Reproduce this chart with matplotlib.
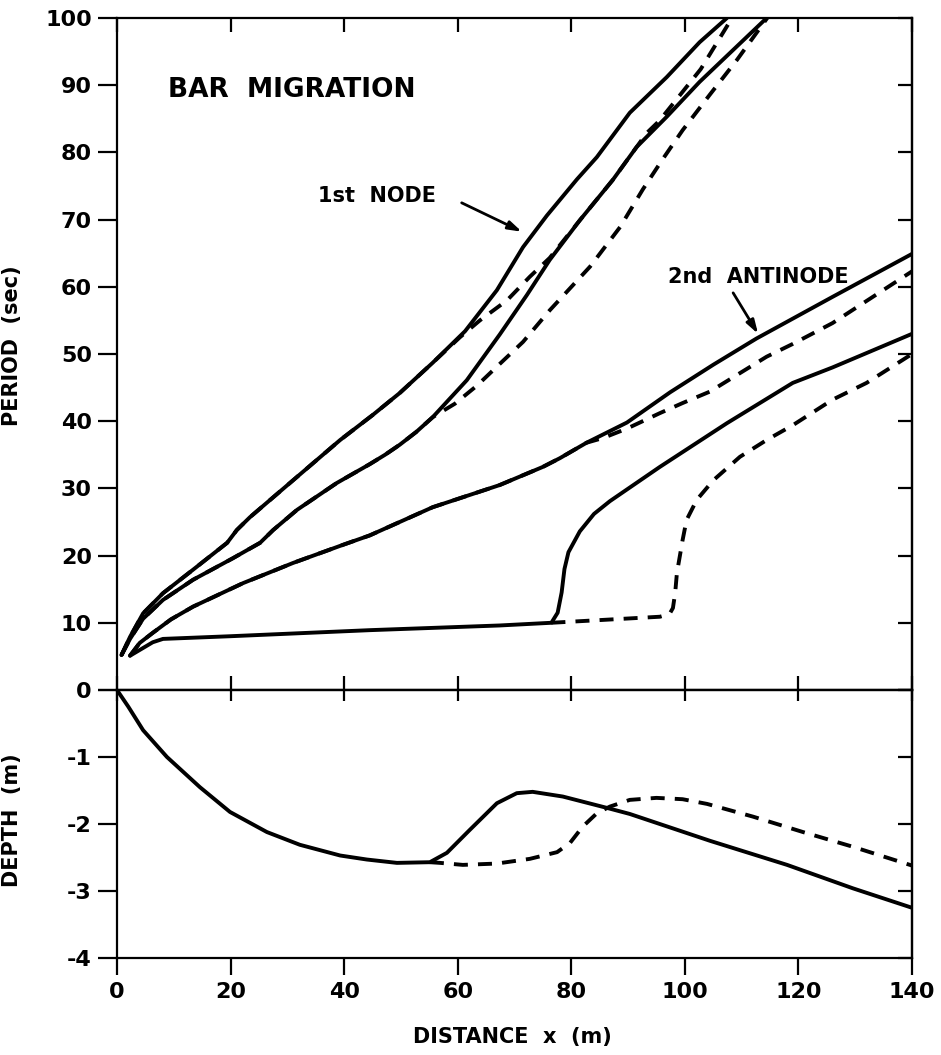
import matplotlib
matplotlib.use("Agg")
import matplotlib.pyplot as plt

# ---------------- data ----------------
# 1st node, solid (upper)
s1_x = [0.8, 2.3, 4.6, 8.1, 13.4, 19.4, 21.1, 23.4, 31.0, 39.3, 45.0, 49.8, 55.6, 61.3, 66.9, 71.5, 75.7, 81.0, 84.5, 90.3, 96.8, 102.6, 107.4]
s1_y = [5.2, 7.9, 11.4, 14.4, 17.9, 21.9, 23.8, 25.7, 31.2, 37.2, 40.9, 44.2, 48.7, 53.4, 59.5, 65.9, 70.6, 76.0, 79.3, 85.9, 91.2, 96.4, 100.0]
# 1st node, dashed (upper)
d1_x = [0.8, 2.3, 4.6, 8.1, 13.4, 19.4, 21.1, 23.4, 31.0, 39.3, 45.0, 49.8, 55.6, 60.4, 63.9, 68.7, 72.7, 76.2, 81.5, 87.3, 91.5, 93.3, 95.5, 99.3, 102.8, 108.3]
d1_y = [5.2, 7.9, 11.4, 14.4, 17.9, 21.9, 23.8, 25.7, 31.2, 37.2, 40.9, 44.2, 48.7, 52.5, 55.0, 58.0, 61.5, 64.3, 69.9, 75.9, 80.8, 82.9, 84.7, 88.7, 92.4, 100.0]
# 1st node, solid (lower)
s2_x = [0.8, 2.3, 4.6, 8.1, 13.4, 20.4, 25.2, 27.5, 31.7, 38.7, 44.5, 47.2, 49.8, 52.7, 55.6, 61.6, 67.4, 72.2, 76.2, 81.5, 87.3, 91.5, 96.8, 102.6, 114.4]
s2_y = [5.2, 7.6, 10.6, 13.4, 16.4, 19.6, 21.9, 23.8, 26.8, 30.8, 33.6, 35.0, 36.5, 38.4, 40.6, 46.1, 52.9, 58.8, 64.0, 69.9, 75.9, 80.8, 85.3, 90.5, 100.0]
# 1st node, dashed (lower)
d2_x = [0.8, 2.3, 4.6, 8.1, 13.4, 20.4, 25.2, 27.5, 31.7, 38.7, 44.5, 47.2, 49.8, 52.7, 55.6, 59.5, 63.4, 67.0, 71.5, 76.2, 83.3, 88.6, 92.6, 96.1, 99.6, 104.4, 109.2, 114.5]
d2_y = [5.2, 7.6, 10.6, 13.4, 16.4, 19.6, 21.9, 23.8, 26.8, 30.8, 33.6, 35.0, 36.5, 38.4, 40.6, 42.6, 45.3, 48.2, 51.8, 56.5, 63.0, 68.9, 74.5, 79.0, 83.3, 88.6, 93.8, 100.0]
# 2nd antinode, solid (upper)
s3_x = [2.3, 4.0, 6.3, 9.5, 13.4, 22.2, 31.0, 39.8, 44.5, 55.6, 67.4, 75.0, 78.0, 82.7, 89.8, 97.4, 105.0, 112.6, 126.0, 140.0]
s3_y = [5.1, 7.0, 8.5, 10.5, 12.4, 15.9, 18.9, 21.6, 23.0, 27.2, 30.5, 33.2, 34.5, 36.8, 39.8, 44.3, 48.4, 52.3, 58.5, 64.9]
# 2nd antinode, dashed (upper)
d3_x = [2.3, 4.0, 6.3, 9.5, 13.4, 22.2, 31.0, 39.8, 44.5, 55.6, 67.4, 75.0, 78.0, 82.7, 85.6, 89.8, 95.6, 99.6, 104.4, 114.4, 119.0, 126.0, 140.0]
d3_y = [5.1, 7.0, 8.5, 10.5, 12.4, 15.9, 18.9, 21.6, 23.0, 27.2, 30.5, 33.2, 34.5, 36.8, 37.5, 38.9, 41.2, 42.7, 44.4, 49.6, 51.5, 54.6, 62.3]
# 2nd antinode, solid (lower)
s4_x = [2.3, 4.5, 6.3, 8.1, 20.0, 44.5, 67.4, 76.5, 77.6, 78.3, 78.8, 79.5, 81.5, 84.0, 86.8, 95.6, 107.4, 119.0, 126.0, 140.0]
s4_y = [5.1, 6.2, 7.1, 7.6, 8.0, 8.9, 9.6, 10.0, 11.5, 14.5, 18.0, 20.5, 23.6, 26.2, 28.1, 33.2, 39.7, 45.7, 48.0, 53.0]
# 2nd antinode, dashed (lower)
d4_x = [76.5, 85.0, 95.6, 97.3, 97.9, 98.3, 98.6, 99.6, 100.3, 102.1, 105.0, 109.7, 114.4, 119.0, 126.0, 132.0, 140.0]
d4_y = [10.0, 10.4, 10.9, 11.3, 12.2, 14.5, 17.4, 22.3, 25.3, 28.3, 31.2, 34.7, 37.2, 39.4, 43.2, 45.7, 50.0]

# depth profiles
depth_solid_x = [0, 2.0, 4.6, 8.8, 14.6, 19.9, 26.4, 32.2, 39.3, 44.0, 49.3, 55.1, 58.1, 62.1, 66.9, 70.4, 73.2, 78.5, 86.3, 90.3, 104.4, 118.0, 129.6, 140.0]
depth_solid_y = [0, -0.25, -0.6, -1.0, -1.45, -1.82, -2.12, -2.31, -2.47, -2.53, -2.58, -2.57, -2.43, -2.09, -1.69, -1.54, -1.52, -1.59, -1.76, -1.85, -2.25, -2.61, -2.96, -3.25]
depth_dash_x = [55.1, 56.9, 60.9, 66.9, 72.7, 77.5, 79.8, 82.0, 84.5, 86.8, 90.3, 95.0, 99.6, 103.9, 112.0, 120.8, 129.6, 140.0]
depth_dash_y = [-2.57, -2.58, -2.61, -2.59, -2.52, -2.42, -2.28, -2.04, -1.84, -1.74, -1.64, -1.61, -1.63, -1.70, -1.89, -2.12, -2.34, -2.62]

x_ticks = [0, 20, 40, 60, 80, 100, 120, 140]
period_ticks = [0, 10, 20, 30, 40, 50, 60, 70, 80, 90, 100]
period_labels = ["", "10", "20", "30", "40", "50", "60", "70", "80", "90", "100"]
depth_ticks = [0, -1, -2, -3, -4]
depth_labels = ["0", "-1", "-2", "-3", "-4"]

# ---------------- styling ----------------
plt.rcParams['font.family'] = ['DejaVu Sans']
plt.rcParams['font.weight'] = 'bold'
FS = 15
TFS = 16
LW = 2.8
SPINE = 1.6
DASH = (3.6, 2.6)

fig = plt.figure(figsize=(9.41, 10.55), dpi=100)
ax1 = fig.add_axes([0.1243, 0.3460, 0.8449, 0.6369])
ax2 = fig.add_axes([0.1243, 0.0919, 0.8449, 0.2541])

def line(ax, x, y, dashed=False):
    if dashed:
        ax.plot(x, y, color='k', lw=LW, linestyle=(0, DASH), solid_joinstyle='round')
    else:
        ax.plot(x, y, color='k', lw=LW, solid_capstyle='round', solid_joinstyle='round')

line(ax1, d1_x, d1_y, True)
line(ax1, d2_x, d2_y, True)
line(ax1, d3_x, d3_y, True)
line(ax1, d4_x, d4_y, True)
line(ax1, s1_x, s1_y)
line(ax1, s2_x, s2_y)
line(ax1, s3_x, s3_y)
line(ax1, s4_x, s4_y)

line(ax2, depth_dash_x, depth_dash_y, True)
line(ax2, depth_solid_x, depth_solid_y)

for ax in (ax1, ax2):
    ax.set_xlim(0, 140)
    for sp in ax.spines.values():
        sp.set_linewidth(SPINE)
    ax.set_xticks(x_ticks)

ax1.set_ylim(0, 100)
ax1.set_yticks(period_ticks)
ax1.set_yticklabels(period_labels, fontsize=TFS, fontweight='bold')
ax1.tick_params(axis='x', direction='in', top=True, bottom=True, labelbottom=False,
                length=10, width=SPINE)
ax1.tick_params(axis='y', direction='out', left=True, right=False, length=14, width=SPINE, pad=4)
r1 = ax1.secondary_yaxis('right')
r1.set_yticks(period_ticks)
r1.tick_params(axis='y', direction='in', length=10, width=SPINE, labelright=False)
r1.spines['right'].set_linewidth(SPINE)

ax2.set_ylim(-4, 0)
ax2.set_yticks(depth_ticks)
ax2.set_yticklabels(depth_labels, fontsize=TFS, fontweight='bold')
ax2.set_xticklabels([str(v) for v in x_ticks], fontsize=TFS, fontweight='bold')
ax2.tick_params(axis='x', direction='out', bottom=True, top=False, length=12, width=SPINE, pad=5)
ax2.tick_params(axis='y', direction='out', left=True, right=False, length=14, width=SPINE, pad=4)
t2 = ax2.secondary_xaxis('top')
t2.set_xticks(x_ticks)
t2.tick_params(axis='x', direction='in', length=8, width=SPINE, labeltop=False)
t2.spines['top'].set_linewidth(SPINE)
r2 = ax2.secondary_yaxis('right')
r2.set_yticks(depth_ticks)
r2.tick_params(axis='y', direction='in', length=10, width=SPINE, labelright=False)
r2.spines['right'].set_linewidth(SPINE)

ax1.set_ylabel("PERIOD  (sec)", fontsize=FS, fontweight='bold')
ax1.yaxis.set_label_coords(-0.12, 0.513)
ax2.set_ylabel("DEPTH  (m)", fontsize=FS, fontweight='bold')
ax2.yaxis.set_label_coords(-0.12, 0.515)
fig.text(0.5443, 0.0171, "DISTANCE  x  (m)", fontsize=FS, fontweight='bold',
         ha='center', va='center')

ax1.text(9.0, 89.3, "BAR  MIGRATION", fontsize=19, fontweight='bold', ha='left', va='center')
ax1.text(35.4, 73.5, "1st  NODE", fontsize=15, fontweight='bold', ha='left', va='center')
ax1.text(97.0, 61.5, "2nd  ANTINODE", fontsize=15, fontweight='bold', ha='left', va='center')

arrow = dict(arrowstyle='-|>,head_length=0.8,head_width=0.25', lw=2.0, color='k', shrinkA=0, shrinkB=0)
ax1.annotate("", xy=(71.3, 68.2), xytext=(60.7, 72.5), arrowprops=arrow)
ax1.annotate("", xy=(112.9, 53.0), xytext=(108.5, 59.1), arrowprops=arrow)

fig.savefig("out.png", dpi=100)
